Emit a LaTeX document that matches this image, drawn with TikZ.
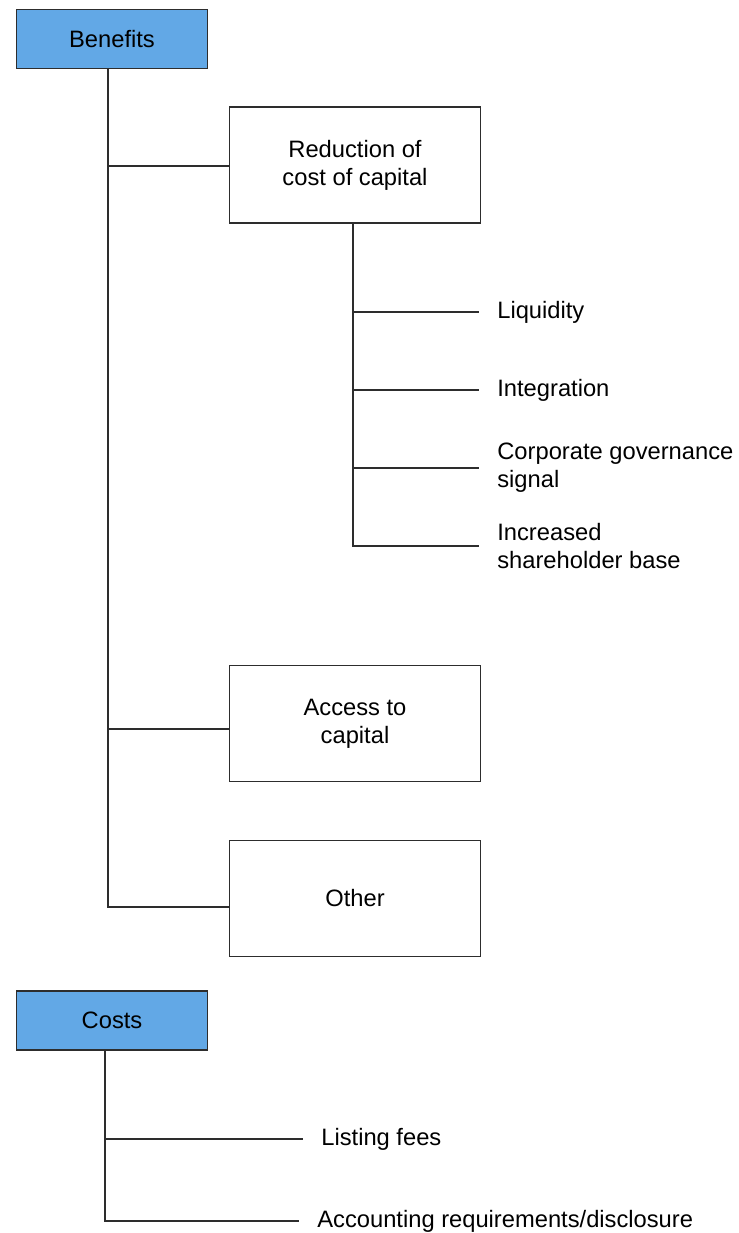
\documentclass[tikz,border=0pt]{standalone}
\usepackage{fontspec}
\setmainfont{Liberation Sans}
\usetikzlibrary{positioning, calc}
\definecolor{listblue}{RGB}{98,168,230}
\definecolor{listdark}{RGB}{45,45,45}

\begin{document}
\begin{tikzpicture}[
  x=0.02cm, y=-0.02cm,
  head/.style={draw=listdark, fill=listblue, line width=1.1pt,
               minimum width=3.82cm, minimum height=1.18cm, inner sep=0pt,
               font=\fontsize{13.5}{16}\selectfont},
  box/.style={draw=listdark, line width=1.1pt, minimum width=5.02cm,
              minimum height=2.32cm, align=center,
              font=\fontsize{13.5}{16}\selectfont},
  item/.style={anchor=west, inner xsep=0.36cm, inner ysep=0pt, align=left,
               font=\fontsize{13.5}{16}\selectfont},
  link/.style={draw=listdark, line width=1.1pt},
]
  \useasboundingbox (0,0) rectangle (738,1233);

  % benefits side
  \node[head] (benefits) at (112,39) {Benefits};
  \node[box] (red) at (355,165) {Reduction of\\cost of capital};
  \node[box] (acc) at (355,723.5) {Access to\\capital};
  \node[box] (oth) at (355,898.5) {Other};

  \coordinate (btop) at (108,69);
  \draw[link] (btop) |- ([yshift=-0.02cm]red.west);
  \draw[link] (btop) |- ([yshift=-0.11cm]acc.west);
  \draw[link] (btop) |- ([yshift=-0.17cm]oth.west);

  \node[item] (liq) at (479,312) {Liquidity};
  \node[item] (int) at (479,390) {Integration};
  \node[item] (gov) at (479,468) {Corporate governance\\signal};
  \node[item] (base) at (479,546) {Increased\\shareholder base};

  \coordinate (rtop) at (353,223);
  \foreach \n in {liq,int,gov,base}
    \draw[link] (rtop) |- (\n.west);

  % costs side
  \node[head] (costs) at (112,1020.5) {Costs};
  \node[item] (fees) at (303,1139) {Listing fees};
  \node[item] (acct) at (299,1221) {Accounting requirements/disclosure};

  \coordinate (ctop) at (105,1051);
  \draw[link] (ctop) |- (fees.west);
  \draw[link] (ctop) |- (acct.west);
\end{tikzpicture}
\end{document}
